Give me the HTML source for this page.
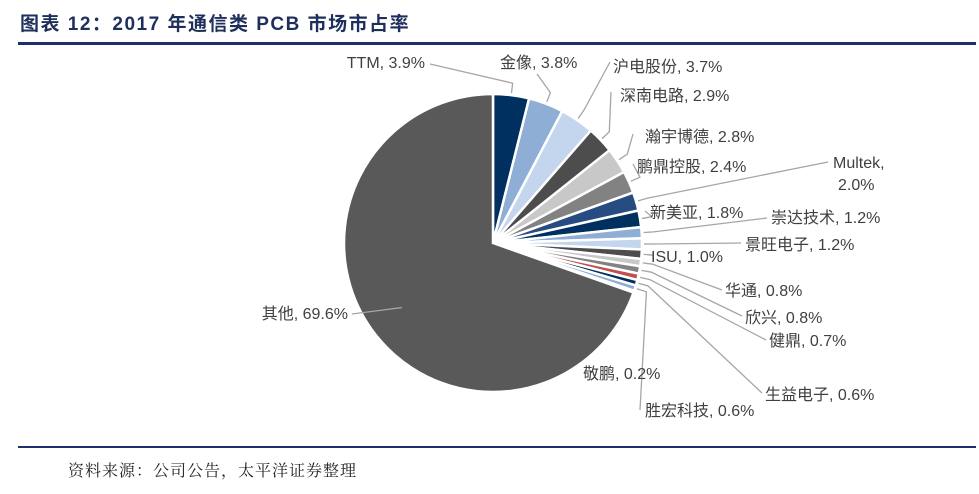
<!DOCTYPE html>
<html><head><meta charset="utf-8"><style>
body{margin:0;background:#fff;width:979px;height:494px;overflow:hidden;font-family:"Liberation Sans","Noto Sans CJK SC",sans-serif}
#title{position:absolute;left:20px;top:9px;font-size:19px;font-weight:bold;color:#1f2f5c;letter-spacing:1.5px;font-family:"Liberation Sans","Noto Sans CJK SC",sans-serif}
#src{position:absolute;left:68px;top:458px;font-size:16px;color:#222;letter-spacing:1px;font-family:"Liberation Serif","Noto Serif CJK SC",serif}
</style></head><body>
<div id="title">图表 12：2017 年通信类 PCB 市场市占率</div>
<div style="position:absolute;left:18px;top:42px;width:958px;height:3px;background:#1f2f6c"></div>
<div style="position:absolute;left:18px;top:446px;width:958px;height:2px;background:#1f2f6c"></div>
<div id="src">资料来源：公司公告，太平洋证券整理</div>
<svg id="chart" width="979" height="494" style="position:absolute;left:0;top:0"></svg>
<script>
const categories=["TTM","金像","沪电股份","深南电路","瀚宇博德","鹏鼎控股","Multek","新美亚","崇达技术","景旺电子","ISU","华通","欣兴","健鼎","生益电子","胜宏科技","敬鹏","其他"];
const values=[3.9,3.8,3.7,2.9,2.8,2.4,2.0,1.8,1.2,1.2,1.0,0.8,0.8,0.7,0.6,0.6,0.2,69.6];
const colors=["#00305f","#8eaed6","#c3d6ee","#4d4d4d","#c8c8c8","#828282","#274c82","#00305f","#8eaed6","#c3d6ee","#4d4d4d","#c8c8c8","#828282","#c0504d","#00305f","#8eaed6","#c3d6ee","#595959"];
const labelPos=[[425,68,"end"],[500,68,"start"],[613,72,"start"],[620,101,"start"],[645,142,"start"],[637,172,"start"],[833,168,"start"],[650,218,"start"],[771,223,"start"],[745,250,"start"],[651,262,"start"],[725,296,"start"],[745,323,"start"],[769,346,"start"],[765,400,"start"],[645,416,"start"],[583,379,"start"],[348,319,"end"]];
const lineEnd=[[430,64],[537,74],[610,62],[611,92],[633,134],[633,164],[828,162],[645,211],[767,218],[741,243],[648,255],[722,290],[742,316],[766,340],[762,393],[640,410],[0,0],[352,314]];
const NS="http://www.w3.org/2000/svg";
const svg=document.getElementById('chart');
const cx=493,cy=243,R=149;
const total=values.reduce((a,b)=>a+b,0);
function pt(a,r){return [cx+r*Math.sin(a),cy-r*Math.cos(a)];}
let ang=0;
values.forEach((v,i)=>{
  const a0=ang,a1=ang+v/total*2*Math.PI;ang=a1;
  const p0=pt(a0,R),p1=pt(a1,R);
  const large=(a1-a0)>Math.PI?1:0;
  const path=document.createElementNS(NS,'path');
  path.setAttribute('d',`M${cx},${cy}L${p0[0]},${p0[1]}A${R},${R} 0 ${large} 1 ${p1[0]},${p1[1]}Z`);
  path.setAttribute('fill',colors[i]);
  path.setAttribute('stroke','#fff');
  path.setAttribute('stroke-width','2.5');
  
  
  svg.appendChild(path);
  const am=(a0+a1)/2;
  const e=pt(am,R+2);
  const lp=labelPos[i];
  if(i!==16){
    const le=lineEnd[i];
    const pl=document.createElementNS(NS,'polyline');
    const mid=i===17?pt(am,R*0.75):pt(am,R+12);
    const start=i===17?mid:e;
    pl.setAttribute('points',`${start[0]},${start[1]} ${(i===17?start:mid)[0]},${(i===17?start:mid)[1]} ${le[0]},${le[1]}`);
    pl.setAttribute('fill','none');pl.setAttribute('stroke','#a6a6a6');pl.setAttribute('stroke-width','1.3');
    
    
    svg.appendChild(pl);
  }
  const t=document.createElementNS(NS,'text');
  t.setAttribute('x',lp[0]);t.setAttribute('y',lp[1]);
  t.setAttribute('text-anchor',lp[2]);
  t.setAttribute('font-size','16');t.setAttribute('fill','#404040');
  t.setAttribute('font-family','"Liberation Sans","Noto Sans CJK SC",sans-serif');
  if(categories[i]==="Multek"){
    t.textContent="Multek,";
    const t2=document.createElementNS(NS,'text');
    t2.setAttribute('x',838);t2.setAttribute('y',lp[1]+22);
    t2.setAttribute('font-size','16');t2.setAttribute('fill','#404040');
    t2.setAttribute('font-family','"Liberation Sans",sans-serif');
    t2.textContent=values[i].toFixed(1)+"%";
    
    
    svg.appendChild(t2);
  } else t.textContent=categories[i]+", "+values[i].toFixed(1)+"%";
  
  
  svg.appendChild(t);
});
</script>
</body></html>
